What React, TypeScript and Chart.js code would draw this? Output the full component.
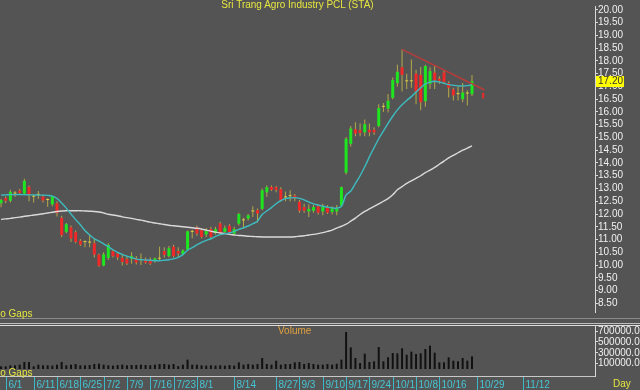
import React, { useEffect, useRef } from "react";
import { Chart, registerables } from "chart.js";
Chart.register(...registerables);

const FONT = "'Liberation Sans', Arial, sans-serif";

// ---- candle data (trading-day index 0 = 5/31) ----
const opens = [
  12.42, 12.62, 12.52, 12.8, 12.92, 12.8, 13.06, 12.68, 12.75, 12.68,
  12.55, 12.38, 12.42, 11.85, 11.3, 11.48, 11.29, 10.95, 10.9, 10.88,
  10.85, 10.41, 9.98, 10.28, 10.54, 10.45, 10.28, 10.23, 10.25, 10.26,
  10.2, 10.23, 10.2, 10.16, 10.25, 10.55, 10.35, 10.72, 10.55, 10.43,
  10.6, 11.3, 11.48, 11.36, 11.2, 11.41, 11.25, 11.63, 11.3, 11.54,
  11.23, 11.62, 11.75, 11.82, 12.1, 12.15, 12.2, 12.85, 13.06, 13.05,
  12.97, 12.65, 12.7, 12.72, 12.48, 12.27, 12.1, 12.13, 12.3, 12.1,
  12.25, 12.08, 12.1, 12.33, 13.62, 14.75, 15.32, 15.28, 15.2, 15.3,
  15.3, 15.45, 16.2, 16.13, 16.55, 17.13, 17.75, 17.2, 17.2, 17.5,
  17.45, 16.42, 17.1, 17.54, 17.3, 17.55, 17.13, 16.88, 16.7, 16.5,
  16.72, 16.7,
];
const highs = [
  12.6, 12.7, 12.95, 12.9, 12.98, 13.38, 13.12, 12.75, 12.9, 12.75,
  12.62, 12.72, 12.5, 11.93, 11.65, 11.55, 11.35, 11.02, 10.96, 11.2,
  11.02, 10.45, 10.5, 10.85, 10.6, 10.5, 10.4, 10.35, 10.5, 10.35,
  10.45, 10.3, 10.3, 10.3, 10.72, 10.7, 10.75, 10.8, 10.7, 10.62,
  11.35, 11.38, 11.55, 11.45, 11.45, 11.5, 11.5, 11.7, 11.55, 11.6,
  11.5, 12.05, 11.85, 12.0, 12.3, 12.22, 13.0, 13.12, 13.12, 13.1,
  13.05, 12.88, 12.93, 12.78, 12.55, 12.4, 12.38, 12.35, 12.38, 12.4,
  12.35, 12.3, 12.35, 13.08, 15.02, 15.45, 15.6, 15.55, 15.7, 15.55,
  15.4, 16.3, 16.35, 16.7, 17.35, 17.85, 18.45, 17.5, 18.05, 17.65,
  17.76, 17.85, 17.75, 17.8, 17.4, 17.62, 17.2, 16.95, 17.0, 17.13,
  16.85, 17.45,
];
const lows = [
  12.26, 12.42, 12.45, 12.68, 12.75, 12.78, 12.5, 12.45, 12.6, 12.45,
  12.28, 12.3, 11.9, 11.1, 11.25, 10.9, 10.85, 10.75, 10.7, 10.7,
  10.3, 9.93, 9.95, 10.2, 10.3, 10.2, 9.98, 10.0, 10.05, 10.02,
  10.0, 10.05, 10.0, 10.1, 10.18, 10.3, 10.3, 10.3, 10.3, 10.38,
  10.55, 11.05, 11.15, 11.05, 11.1, 11.05, 11.2, 11.2, 11.25, 11.25,
  11.18, 11.55, 11.42, 11.75, 11.88, 11.67, 12.15, 12.68, 12.9, 12.85,
  12.48, 12.5, 12.5, 12.5, 12.05, 12.05, 11.88, 12.05, 11.98, 11.95,
  12.0, 11.98, 11.95, 12.3, 13.55, 14.65, 15.05, 15.05, 15.05, 15.05,
  15.1, 15.4, 16.0, 15.98, 16.5, 17.0, 16.8, 16.9, 16.95, 16.3,
  16.07, 16.2, 16.9, 16.9, 17.1, 17.1, 16.57, 16.45, 16.45, 16.38,
  16.25, 16.62,
];
const closes = [
  12.55, 12.52, 12.87, 12.8, 12.83, 13.3, 12.75, 12.68, 12.75, 12.53,
  12.55, 12.7, 12.04, 11.17, 11.6, 11.04, 10.91, 10.8, 10.9, 10.88,
  10.41, 9.97, 10.42, 10.79, 10.35, 10.3, 10.12, 10.06, 10.35, 10.1,
  10.2, 10.1, 10.06, 10.26, 10.25, 10.4, 10.66, 10.35, 10.45, 10.57,
  11.32, 11.3, 11.23, 11.1, 11.33, 11.1, 11.41, 11.25, 11.45, 11.29,
  11.41, 12.0, 11.75, 11.95, 12.1, 12.02, 12.93, 13.05, 12.95, 12.95,
  12.52, 12.65, 12.7, 12.62, 12.13, 12.13, 12.2, 12.27, 12.05, 12.28,
  12.05, 12.22, 12.22, 13.05, 14.95, 15.35, 15.15, 15.18, 15.52, 15.2,
  15.2, 16.15, 16.2, 16.44, 17.25, 17.57, 17.45, 17.2, 17.2, 16.8,
  16.38, 17.8, 17.6, 17.24, 17.22, 17.18, 16.95, 16.65, 16.7, 16.76,
  16.72, 17.2,
];
const volumes = [
  49000, 49000, 68000, 68000, 80000, 130000, 130000, 49000, 80000, 68000,
  68000, 62000, 80000, 130000, 68000, 80000, 93000, 68000, 68000, 74000,
  93000, 99000, 80000, 68000, 62000, 74000, 80000, 68000, 74000, 74000,
  80000, 74000, 68000, 80000, 93000, 93000, 80000, 93000, 56000, 80000,
  173000, 80000, 80000, 68000, 62000, 68000, 62000, 68000, 62000, 74000,
  62000, 123000, 80000, 93000, 80000, 93000, 204000, 93000, 80000, 154000,
  80000, 93000, 93000, 123000, 130000, 93000, 111000, 93000, 80000, 80000,
  93000, 80000, 99000, 173000, 685000, 401000, 204000, 111000, 284000, 130000,
  142000, 407000, 142000, 216000, 296000, 290000, 383000, 265000, 321000, 278000,
  290000, 370000, 432000, 302000, 123000, 123000, 216000, 154000, 142000, 204000,
  154000, 234000,
];
// short (cyan) and long (white) moving averages
const maShort = [
  12.74, 12.75, 12.76, 12.76, 12.76, 12.76, 12.75, 12.75, 12.74, 12.74,
  12.73, 12.7, 12.61, 12.43, 12.23, 12.0, 11.78, 11.58, 11.35, 11.18,
  11.03, 10.94, 10.83, 10.72, 10.6, 10.5, 10.42, 10.35, 10.29, 10.23,
  10.21, 10.2, 10.19, 10.17, 10.17, 10.19, 10.21, 10.24, 10.3, 10.41,
  10.58, 10.68, 10.79, 10.89, 10.97, 11.03, 11.12, 11.19, 11.23, 11.26,
  11.32, 11.4, 11.46, 11.53, 11.62, 11.72, 11.98, 12.12, 12.25, 12.4,
  12.52, 12.6, 12.63, 12.64, 12.61, 12.55, 12.47, 12.4, 12.35, 12.31,
  12.27, 12.24, 12.23, 12.3, 12.75, 12.9, 13.2, 13.5, 13.85, 14.24,
  14.6, 14.95, 15.25, 15.55, 15.83, 16.08, 16.28, 16.45, 16.6, 16.78,
  16.95, 17.1, 17.17, 17.2, 17.17, 17.12, 17.07, 17.04, 17.02, 17.02,
  17.03, 17.06,
];
const maLong = [
  11.79, 11.81, 11.83, 11.86, 11.88, 11.91, 11.93, 11.96, 11.98, 12.01,
  12.04, 12.07, 12.1, 12.12, 12.13, 12.13, 12.13, 12.13, 12.12, 12.11,
  12.1, 12.08, 12.04, 11.99, 11.96, 11.93, 11.89, 11.86, 11.83, 11.79,
  11.76, 11.72, 11.68, 11.65, 11.62, 11.59, 11.56, 11.54, 11.52, 11.5,
  11.48, 11.46, 11.44, 11.41, 11.37, 11.33, 11.29, 11.26, 11.23, 11.2,
  11.18, 11.16, 11.15, 11.13, 11.12, 11.11, 11.1, 11.1, 11.1, 11.1,
  11.1, 11.1, 11.1, 11.11, 11.13, 11.15, 11.18, 11.2, 11.23, 11.27,
  11.32, 11.37, 11.45, 11.52, 11.6, 11.72, 11.84, 11.98, 12.1, 12.2,
  12.3, 12.4, 12.5, 12.6, 12.75, 12.95, 13.07, 13.2, 13.3, 13.4,
  13.5, 13.62, 13.72, 13.83, 13.95, 14.07, 14.2, 14.3, 14.4, 14.5,
  14.58, 14.67,
];
// down trend line and next-day marker
const trendX = [86, 103.7];
const trendY = [18.45, 16.86];
const markerX = 103.4;
const markerRange = [16.53, 16.75];

// axes
const dateTickIndex = [1, 7, 12, 17, 22, 27, 32, 37, 42, 50, 59, 64, 69, 74, 79, 84, 89, 94, 102, 112];
const dateTickLabels = ["6/1", "6/11", "6/18", "6/25", "7/2", "7/9", "7/16", "7/23", "8/1", "8/14", "8/27", "9/3", "9/10", "9/17", "9/24", "10/1", "10/8", "10/16", "10/29", "11/12"];
const priceTicks = [8.5, 9, 9.5, 10, 10.5, 11, 11.5, 12, 12.5, 13, 13.5, 14, 14.5, 15, 15.5, 16, 16.5, 17, 17.5, 18, 18.5, 19, 19.5, 20];
const volumeTicks = [100000, 300000, 500000, 700000];

const X_MIN = -0.223;
const X_MAX = 127.38;
const P_MIN = 8.16;
const P_MAX = 20.151;
const V_MAX = 796000;

const BG = "#545454";
const GREEN = "#1ee61e";
const RED = "#f02828";
const WICK = "#b5a948";
const DOJI = "#e0d048";
const CYAN = "#3cbcc0";
const AXIS_TEXT = "#f0f0f0";
const TICK_CYAN = "#3ab8c8";

const lastPricePlugin = {
  id: "lastPrice",
  afterDraw(chart: any) {
    const y = chart.scales.y.getPixelForValue(closes[closes.length - 1]);
    const ctx = chart.ctx;
    ctx.save();
    ctx.fillStyle = "#ffff00";
    ctx.fillRect(596, Math.round(y) - 5, 28, 11);
    ctx.fillStyle = "#333333";
    ctx.font = `10px ${FONT}`;
    ctx.textBaseline = "middle";
    ctx.fillText(closes[closes.length - 1].toFixed(2), 598, Math.round(y) + 0.5);
    ctx.restore();
  },
};

const dateStripPlugin = {
  id: "dateStrip",
  afterDraw(chart: any) {
    const xs = chart.scales.x;
    const ctx = chart.ctx;
    ctx.save();
    ctx.strokeStyle = TICK_CYAN;
    ctx.fillStyle = "#46c4d4";
    ctx.lineWidth = 1;
    ctx.font = `10px ${FONT}`;
    ctx.textBaseline = "alphabetic";
    dateTickIndex.forEach((idx, k) => {
      const px = Math.round(xs.getPixelForValue(idx)) + 0.5;
      ctx.beginPath();
      ctx.moveTo(px, 57);
      ctx.lineTo(px, 70);
      ctx.stroke();
      ctx.fillText(dateTickLabels[k], px + 2, 67.5);
    });
    ctx.restore();
  },
};

const yAxisCommon = {
  position: "right" as const,
  afterFit: (s: any) => {
    s.width = 45;
  },
  grid: { drawOnChartArea: false, color: "#d8d8d8", tickLength: 3 },
  border: { color: "#d8d8d8", dash: [2, 1] },
};

export default function App() {
  const priceRef = useRef<HTMLCanvasElement>(null);
  const volRef = useRef<HTMLCanvasElement>(null);

  useEffect(() => {
    const bodyColor = (i: number) =>
      closes[i] > opens[i] ? GREEN : closes[i] < opens[i] ? RED : DOJI;

    const price = new Chart(priceRef.current!, {
      type: "bar",
      data: {
        datasets: [
          {
            type: "line",
            data: maShort.map((v, i) => ({ x: i, y: v })),
            borderColor: CYAN,
            borderWidth: 1.4,
            pointRadius: 0,
            tension: 0.35,
          } as any,
          {
            type: "line",
            data: maLong.map((v, i) => ({ x: i, y: v })),
            borderColor: "#dadada",
            borderWidth: 1.4,
            pointRadius: 0,
            tension: 0.35,
          } as any,
          {
            type: "line",
            data: trendX.map((x, k) => ({ x, y: trendY[k] })),
            borderColor: "#b83c3c",
            borderWidth: 1.5,
            pointRadius: 0,
          } as any,
          {
            type: "bar",
            data: opens.map((o, i) => ({ x: i, y: [o, closes[i]] })),
            backgroundColor: (ctx: any) => bodyColor(ctx.dataIndex),
            barThickness: 3,
            grouped: false,
            minBarLength: 1,
            inflateAmount: 0,
          } as any,
          {
            type: "bar",
            data: lows.map((l, i) => ({ x: i, y: [l, highs[i]] })),
            backgroundColor: WICK,
            barThickness: 1,
            grouped: false,
            inflateAmount: 0,
          } as any,
          {
            type: "bar",
            data: [{ x: markerX, y: markerRange }],
            backgroundColor: RED,
            barThickness: 2,
            grouped: false,
            inflateAmount: 0,
          } as any,
        ],
      },
      options: {
        responsive: false,
        animation: false,
        events: [],
        layout: { padding: 0, autoPadding: false },
        plugins: { legend: { display: false }, tooltip: { enabled: false } },
        scales: {
          x: { type: "linear", min: X_MIN, max: X_MAX, display: false, offset: false },
          y: {
            ...yAxisCommon,
            min: P_MIN,
            max: P_MAX,
            afterBuildTicks: (s: any) => {
              s.ticks = priceTicks.map((v) => ({ value: v }));
            },
            ticks: {
              autoSkip: false,
              color: AXIS_TEXT,
              font: { family: FONT, size: 10 },
              padding: 0,
              callback: (v: any) => Number(v).toFixed(2),
            },
          },
        },
      } as any,
      plugins: [lastPricePlugin],
    });

    const vol = new Chart(volRef.current!, {
      type: "bar",
      data: {
        datasets: [
          {
            data: volumes.map((v, i) => ({ x: i, y: v })),
            backgroundColor: "#111111",
            barThickness: 2,
            grouped: false,
            inflateAmount: 0,
          } as any,
        ],
      },
      options: {
        responsive: false,
        animation: false,
        events: [],
        layout: { padding: { top: 6, bottom: 21, left: 0, right: 0 }, autoPadding: false },
        plugins: { legend: { display: false }, tooltip: { enabled: false } },
        scales: {
          x: { type: "linear", min: X_MIN, max: X_MAX, display: false, offset: false },
          y: {
            ...yAxisCommon,
            min: 0,
            max: V_MAX,
            afterBuildTicks: (s: any) => {
              s.ticks = volumeTicks.map((v) => ({ value: v }));
            },
            ticks: {
              autoSkip: false,
              color: AXIS_TEXT,
              font: { family: FONT, size: 10 },
              padding: 0,
              callback: (v: any) => Number(v).toFixed(2),
            },
          },
        },
      } as any,
      plugins: [dateStripPlugin],
    });

    return () => {
      price.destroy();
      vol.destroy();
    };
  }, []);

  const txt = (extra: React.CSSProperties): React.CSSProperties => ({
    position: "absolute",
    fontFamily: FONT,
    fontSize: 10,
    lineHeight: "10px",
    whiteSpace: "nowrap",
    ...extra,
  });
  const hline = (top: number, color: string, width = 640): React.CSSProperties => ({
    position: "absolute",
    left: 0,
    top,
    width,
    height: 1,
    background: color,
  });

  return (
    <div
      style={{
        position: "fixed",
        left: 0,
        top: 0,
        width: 640,
        height: 390,
        overflow: "hidden",
        background: BG,
      }}
    >
      <canvas ref={priceRef} width={640} height={318} style={{ position: "absolute", left: 0, top: 0, display: "block" }} />
      <canvas ref={volRef} width={640} height={70} style={{ position: "absolute", left: 0, top: 320, display: "block" }} />
      <div style={hline(318, "#8a8a8a")} />
      <div style={hline(323, "#bdbdbd")} />
      <div style={hline(325, "#dcdcdc")} />
      <div style={hline(376, "#c8c8c8", 595)} />
      <div style={{ position: "absolute", left: 595, top: 326, width: 1, height: 51, background: "#d8d8d8" }} />
      <div style={txt({ left: 0, width: 595, top: 0, textAlign: "center", color: "#e6e640" })}>
        Sri Trang Agro Industry PCL (STA)
      </div>
      <div style={txt({ left: -7, top: 309, color: "#e6e640" })}>No Gaps</div>
      <div style={txt({ left: 278, top: 326, color: "#e0a040" })}>Volume</div>
      <div style={txt({ left: -7, top: 368, color: "#e6e640" })}>No Gaps</div>
      <div style={txt({ left: 613, top: 379, color: "#e6e640" })}>Day</div>
    </div>
  );
}
